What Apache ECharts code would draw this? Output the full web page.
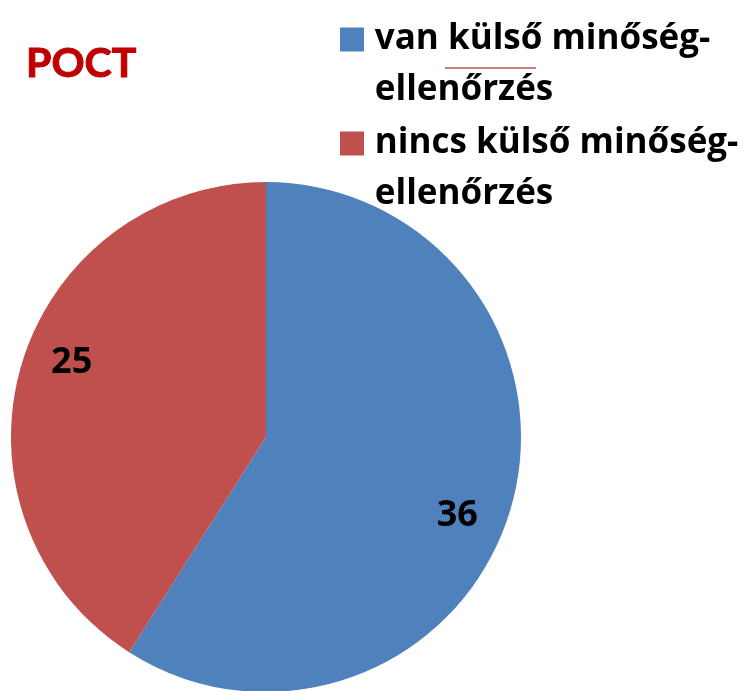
<!DOCTYPE html>
<html>
<head>
<meta charset="utf-8">
<style>
  html, body { margin: 0; padding: 0; background: #fff; }
  #chart { width: 743px; height: 691px; }
</style>
<script src="https://cdn.jsdelivr.net/npm/echarts@6/dist/echarts.min.js"></script>
</head>
<body>
<div id="chart"></div>
<script>
// Categories and counts
const categories = ['van külső minőség-\nellenőrzés', 'nincs külső minőség-\nellenőrzés'];
const counts = [36, 25];
const sliceColors = ['#4F81BD', '#C0504D'];
const titleText = 'POCT';

const FONT = '"Open Sans", Lato, sans-serif';
const labelOffsets = [[66, 42], [-69, -38]];

const chart = echarts.init(document.getElementById('chart'));

// Each legend entry is its own legend so the square sits beside the first text line;
// a leading blank line shifts the two-line text so its first line is centred on the square,
// and a thin space before every line widens the gap after the square.
const legendBase = {
  orient: 'vertical',
  left: 335,
  icon: 'rect',
  itemWidth: 24,
  itemHeight: 24,
  selectedMode: false,
  formatter: name => '\n' + name.split('\n').map(s => '\u2009' + s).join('\n'),
  textStyle: {
    fontFamily: FONT,
    fontWeight: 'bold',
    fontSize: 35,
    color: '#000',
    lineHeight: 51
  }
};

chart.setOption({
  animation: false,
  color: sliceColors,
  title: {
    text: titleText,
    left: 21,
    top: 38,
    textStyle: {
      fontFamily: 'Lato, sans-serif', fontWeight: 'bold', fontSize: 41, color: '#C00000',
      textBorderColor: '#C00000', textBorderWidth: 1
    }
  },
  legend: [
    Object.assign({}, legendBase, { top: -42, data: [categories[0]] }),
    Object.assign({}, legendBase, { top: 62, data: [categories[1]] })
  ],
  graphic: [{
    type: 'line',
    shape: { x1: 445, y1: 68, x2: 536, y2: 68 },
    style: { stroke: '#C0504D', lineWidth: 1.5 }
  }],
  series: [{
    type: 'pie',
    center: [266, 437],
    radius: [0, 255],
    startAngle: 90,
    clockwise: true,
    avoidLabelOverlap: false,
    itemStyle: { borderWidth: 0 },
    label: {
      show: true,
      position: 'inside',
      formatter: '{c}',
      fontFamily: FONT,
      fontWeight: 'bold',
      fontSize: 36,
      color: '#000'
    },
    labelLine: { show: false },
    emphasis: { disabled: true },
    data: categories.map((name, i) => ({
      name: name,
      value: counts[i],
      label: { offset: labelOffsets[i] }
    }))
  }]
});
</script>
</body>
</html>
